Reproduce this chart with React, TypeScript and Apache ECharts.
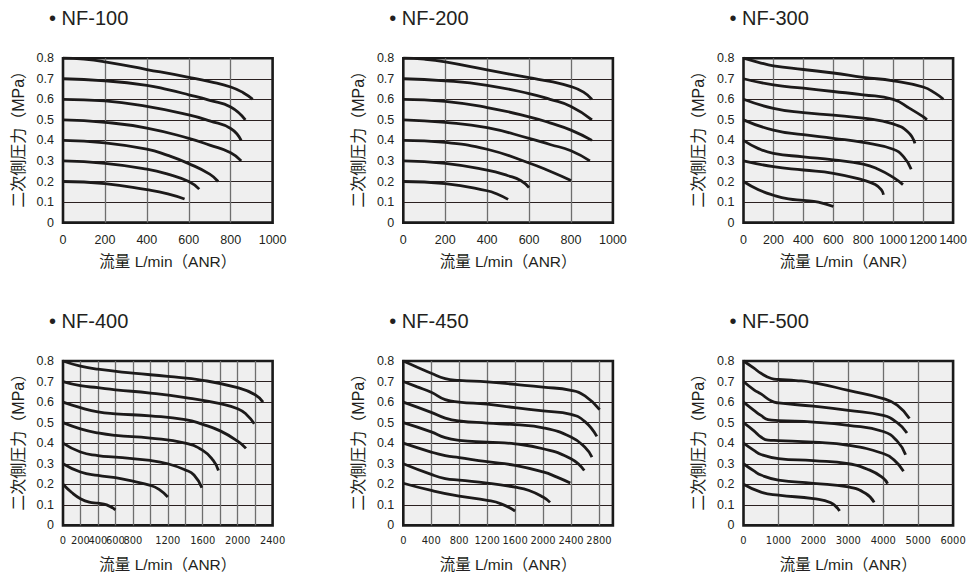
import React, { useEffect, useRef } from 'react';
import * as echarts from 'echarts';

// ---------------- DATA ----------------
const models = ['NF-100', 'NF-200', 'NF-300', 'NF-400', 'NF-450', 'NF-500'];
const setPressures = ['0.8', '0.7', '0.6', '0.5', '0.4', '0.3', '0.2'];
const xMaxes = [1000, 1000, 1400, 2400, 3000, 6000];
const xSteps = [200, 200, 200, 200, 400, 1000];
const nf400HiddenLabels = [1000, 1400, 1800, 2200];
const yTickLabels = ['0', '0.1', '0.2', '0.3', '0.4', '0.5', '0.6', '0.7', '0.8'];
const xAxisName = '流量 L/min（ANR）';
const yAxisName = '二次側圧力（MPa）';

const nf100 = [
  [[0, 0.8], [100, 0.795], [200, 0.782], [400, 0.745], [600, 0.707], [700, 0.686], [800, 0.66], [860, 0.632], [905, 0.6]],
  [[0, 0.7], [200, 0.69], [400, 0.668], [500, 0.647], [600, 0.622], [700, 0.595], [800, 0.563], [870, 0.5]],
  [[0, 0.6], [200, 0.592], [400, 0.565], [600, 0.524], [700, 0.495], [800, 0.458], [850, 0.4]],
  [[0, 0.5], [200, 0.488], [400, 0.46], [600, 0.41], [700, 0.377], [800, 0.34], [850, 0.3]],
  [[0, 0.4], [200, 0.388], [400, 0.358], [500, 0.327], [600, 0.287], [700, 0.236], [740, 0.2]],
  [[0, 0.3], [200, 0.288], [400, 0.26], [500, 0.236], [600, 0.2], [650, 0.163]],
  [[0, 0.2], [200, 0.19], [400, 0.16], [500, 0.14], [580, 0.115]],
];
const nf200 = [
  [[0, 0.8], [100, 0.795], [200, 0.782], [400, 0.743], [600, 0.705], [700, 0.687], [800, 0.662], [860, 0.635], [900, 0.6]],
  [[0, 0.7], [200, 0.69], [400, 0.668], [600, 0.628], [700, 0.6], [800, 0.565], [900, 0.5]],
  [[0, 0.6], [200, 0.59], [400, 0.56], [600, 0.515], [700, 0.485], [800, 0.45], [900, 0.4]],
  [[0, 0.5], [200, 0.488], [400, 0.462], [600, 0.41], [700, 0.38], [800, 0.35], [890, 0.3]],
  [[0, 0.4], [200, 0.39], [400, 0.357], [600, 0.29], [700, 0.25], [800, 0.205]],
  [[0, 0.3], [200, 0.288], [400, 0.255], [500, 0.228], [560, 0.205], [600, 0.17]],
  [[0, 0.2], [200, 0.19], [400, 0.155], [450, 0.138], [500, 0.113]],
];
const nf300 = [
  [[0, 0.8], [100, 0.78], [200, 0.763], [400, 0.745], [600, 0.728], [800, 0.707], [1000, 0.69], [1200, 0.66], [1280, 0.63], [1335, 0.6]],
  [[0, 0.7], [200, 0.67], [400, 0.654], [600, 0.638], [800, 0.622], [1000, 0.6], [1110, 0.556], [1200, 0.515], [1225, 0.5]],
  [[0, 0.6], [200, 0.556], [400, 0.535], [600, 0.523], [800, 0.508], [1000, 0.48], [1100, 0.44], [1145, 0.385]],
  [[0, 0.5], [200, 0.45], [400, 0.428], [600, 0.41], [800, 0.39], [1000, 0.357], [1070, 0.32], [1120, 0.26]],
  [[0, 0.4], [100, 0.36], [200, 0.337], [400, 0.32], [600, 0.305], [800, 0.285], [900, 0.26], [1000, 0.22], [1065, 0.185]],
  [[0, 0.3], [200, 0.272], [400, 0.256], [600, 0.24], [800, 0.207], [880, 0.185], [920, 0.16], [935, 0.135]],
  [[0, 0.2], [100, 0.16], [200, 0.133], [300, 0.115], [400, 0.108], [500, 0.1], [600, 0.078]],
];
const nf400 = [
  [[0, 0.8], [200, 0.775], [400, 0.76], [800, 0.741], [1200, 0.725], [1600, 0.706], [2000, 0.67], [2200, 0.636], [2290, 0.6]],
  [[0, 0.7], [200, 0.68], [400, 0.67], [600, 0.66], [1000, 0.644], [1400, 0.622], [1800, 0.592], [2000, 0.568], [2100, 0.54], [2190, 0.495]],
  [[0, 0.6], [200, 0.573], [400, 0.552], [600, 0.543], [1000, 0.533], [1400, 0.515], [1600, 0.492], [1800, 0.46], [2000, 0.41], [2095, 0.375]],
  [[0, 0.5], [200, 0.47], [400, 0.45], [600, 0.438], [1000, 0.425], [1400, 0.4], [1600, 0.365], [1720, 0.316], [1780, 0.267]],
  [[0, 0.4], [200, 0.357], [400, 0.34], [600, 0.332], [1000, 0.316], [1200, 0.3], [1400, 0.27], [1500, 0.245], [1590, 0.183]],
  [[0, 0.3], [200, 0.26], [400, 0.243], [600, 0.232], [800, 0.215], [1000, 0.195], [1100, 0.175], [1200, 0.138]],
  [[0, 0.2], [100, 0.16], [200, 0.13], [300, 0.113], [400, 0.108], [500, 0.1], [600, 0.076]],
];
const nf450 = [
  [[0, 0.8], [200, 0.77], [400, 0.74], [600, 0.714], [800, 0.706], [1200, 0.698], [1600, 0.686], [2000, 0.673], [2400, 0.657], [2600, 0.63], [2810, 0.563]],
  [[0, 0.7], [200, 0.674], [400, 0.648], [600, 0.612], [800, 0.6], [1200, 0.59], [1600, 0.573], [2000, 0.557], [2400, 0.54], [2600, 0.505], [2770, 0.433]],
  [[0, 0.6], [400, 0.55], [600, 0.522], [800, 0.508], [1200, 0.498], [1600, 0.49], [2000, 0.475], [2400, 0.43], [2600, 0.38], [2700, 0.332]],
  [[0, 0.5], [400, 0.455], [600, 0.427], [800, 0.414], [1200, 0.405], [1600, 0.397], [2000, 0.373], [2400, 0.324], [2590, 0.267]],
  [[0, 0.4], [400, 0.357], [600, 0.34], [800, 0.33], [1200, 0.31], [1600, 0.292], [2000, 0.26], [2200, 0.235], [2390, 0.206]],
  [[0, 0.3], [400, 0.248], [600, 0.228], [800, 0.22], [1200, 0.206], [1600, 0.186], [1800, 0.17], [2000, 0.138], [2100, 0.112]],
  [[0, 0.205], [400, 0.17], [800, 0.142], [1200, 0.122], [1400, 0.105], [1600, 0.07]],
];
const nf500 = [
  [[0, 0.8], [300, 0.765], [500, 0.74], [800, 0.715], [1000, 0.71], [1500, 0.705], [2000, 0.695], [3000, 0.657], [4000, 0.617], [4400, 0.585], [4750, 0.52]],
  [[0, 0.7], [300, 0.66], [500, 0.64], [800, 0.605], [1000, 0.596], [2000, 0.58], [3000, 0.56], [4000, 0.535], [4400, 0.5], [4680, 0.45]],
  [[0, 0.6], [300, 0.56], [500, 0.535], [700, 0.515], [1000, 0.51], [2000, 0.503], [3000, 0.487], [4000, 0.457], [4400, 0.41], [4640, 0.344]],
  [[0, 0.5], [300, 0.46], [500, 0.43], [700, 0.415], [1000, 0.413], [2000, 0.405], [3000, 0.39], [4000, 0.35], [4300, 0.32], [4580, 0.264]],
  [[0, 0.4], [300, 0.365], [500, 0.345], [1000, 0.325], [2000, 0.315], [3000, 0.3], [3600, 0.27], [4000, 0.23], [4125, 0.203]],
  [[0, 0.3], [300, 0.265], [500, 0.245], [1000, 0.22], [2000, 0.205], [3000, 0.187], [3500, 0.155], [3740, 0.112]],
  [[0, 0.2], [500, 0.162], [1000, 0.147], [2000, 0.13], [2500, 0.11], [2750, 0.07]],
];
const curvesByModel = [nf100, nf200, nf300, nf400, nf450, nf500];

// ---------------- LAYOUT ----------------
const W = 973;
const H = 574;
const colLefts = [63, 403.3, 743.5];
const rowTops = [58.2, 361];
const plotW = 209.6;
const plotH = 164.4;

const LATIN = "'Liberation Sans', Arial, 'Noto Sans CJK JP', sans-serif";
const NARROW = "'Liberation Sans Narrow', 'Arial Narrow', 'DejaVu Sans Condensed', 'Liberation Sans', sans-serif";
const INK = '#231f20';

function buildOption() {
  const grids: any[] = [];
  const xAxes: any[] = [];
  const yAxes: any[] = [];
  const titles: any[] = [];
  const series: any[] = [];

  models.forEach((model, i) => {
    const row = Math.floor(i / 3);
    const col = i % 3;
    const left = colLefts[col];
    const top = rowTops[row];
    grids.push({
      left,
      top,
      width: plotW,
      height: plotH,
      show: true,
      backgroundColor: '#efefef',
      borderColor: '#1a1a1a',
      borderWidth: 2.6,
      containLabel: false,
    });
    titles.push({
      text: '• ' + model,
      left: left - 14,
      top: row === 0 ? 8 : 311,
      padding: 0,
      textStyle: { fontSize: 20, fontWeight: 'normal', color: INK, fontFamily: LATIN },
    });
    const narrow = row === 1;
    xAxes.push({
      gridIndex: i,
      type: 'value',
      min: 0,
      max: xMaxes[i],
      interval: xSteps[i],
      axisLine: { show: false },
      axisTick: { show: false },
      axisLabel: {
        fontSize: narrow ? 11 : 12.5,
        fontFamily: narrow ? NARROW : LATIN,
        color: INK,
        margin: narrow ? 10 : 11,
        showMaxLabel: xMaxes[i] % xSteps[i] === 0,
        formatter: (v: number) => {
          if (i === 3 && nf400HiddenLabels.indexOf(v) >= 0) return '';
          return String(v);
        },
      },
      splitLine: {
        show: true,
        showMinLine: false,
        showMaxLine: false,
        lineStyle: { color: '#6e6e6e', width: 1.3 },
      },
      name: xAxisName,
      nameLocation: 'middle',
      nameGap: 31,
      nameTextStyle: { fontSize: 15.5, color: INK, fontFamily: LATIN },
    });
    yAxes.push({
      gridIndex: i,
      type: 'value',
      min: 0,
      max: 0.8,
      interval: 0.1,
      axisLine: { show: false },
      axisTick: { show: false },
      axisLabel: {
        fontSize: 12.5,
        fontFamily: LATIN,
        color: INK,
        margin: 9,
        formatter: (v: number) => yTickLabels[Math.round(v * 10)] ?? '',
      },
      splitLine: {
        show: true,
        showMinLine: false,
        showMaxLine: false,
        lineStyle: { color: '#2a2020', width: 1 },
      },
      name: yAxisName,
      nameLocation: 'middle',
      nameGap: 37,
      nameTextStyle: { fontSize: 16, color: INK, fontFamily: LATIN, padding: [0, 0, 0, 10] },
    });
    curvesByModel[i].forEach((curve, k) => {
      series.push({
        name: model + ' ' + setPressures[k] + ' MPa',
        type: 'line',
        xAxisIndex: i,
        yAxisIndex: i,
        data: curve,
        smooth: 0.5,
        showSymbol: false,
        symbol: 'none',
        silent: true,
        clip: false,
        lineStyle: { color: '#1c1a1a', width: 2.8 },
      });
    });
  });

  return {
    animation: false,
    backgroundColor: '#ffffff',
    title: titles,
    grid: grids,
    xAxis: xAxes,
    yAxis: yAxes,
    series,
  };
}

export default function App() {
  const ref = useRef<HTMLDivElement>(null);
  useEffect(() => {
    if (!ref.current) return;
    const chart = echarts.init(ref.current, undefined, { renderer: 'svg', width: W, height: H });
    chart.setOption(buildOption() as any);
    return () => {
      chart.dispose();
    };
  }, []);
  return (
    <div
      ref={ref}
      style={{ position: 'absolute', left: 0, top: 0, width: W, height: H, background: '#fff' }}
    />
  );
}
